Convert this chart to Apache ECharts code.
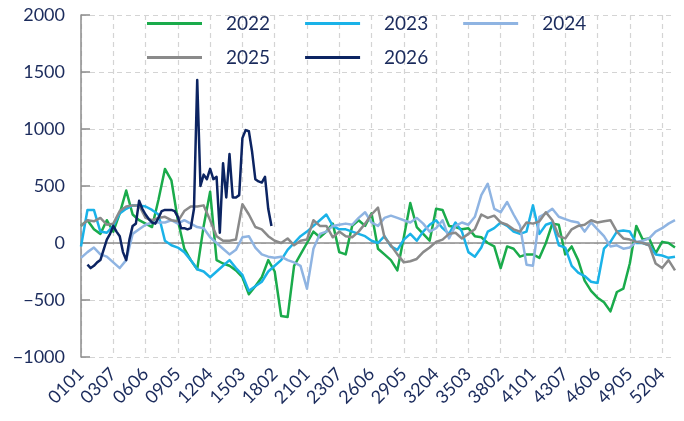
<!DOCTYPE html>
<html>
<head>
<meta charset="utf-8">
<script src="https://cdn.jsdelivr.net/npm/echarts@6/dist/echarts.min.js"></script>
<style>
  html, body { margin: 0; padding: 0; background: #fff; }
  #chart { width: 684px; height: 421px; }
</style>
</head>
<body>
<div id="chart"></div>
<script>
// week+day codes, 0101 .. 5305
const dayCodes = [];
for (let w = 1; w <= 53; w++) {
    for (let d = 1; d <= 7; d++) {
        dayCodes.push(String(w).padStart(2, '0') + String(d).padStart(2, '0'));
    }
}
const categories = dayCodes.slice(0, 369);

const seriesNames = ['2022', '2023', '2024', '2025', '2026'];
const seriesColors = ['#1aab4b', '#1ab2e8', '#8fb4e2', '#8a8a8a', '#0c2462'];

// sampled every 4 days for the full years, every 2 days for 2026
const step = 4;
const step2026 = 2;

const v2022 = [150, 200, 120, 80, 200, 100, 260, 460, 250, 200, 170, 140, 380, 650, 550, 200,
    -50, -150, -230, 150, 450, -150, -180, -200, -240, -300, -450, -380, -300, -150, -250, -640,
    -650, -200, -100, 0, 100, 50, 100, 170, -80, -100, 150, 200, 150, 260, -50, -100,
    -150, -240, 50, 350, 140, 80, 20, 300, 290, 150, 140, 120, 130, 60, 50, 0,
    -30, -220, -30, -50, -120, -100, -100, -130, 0, 170, 160, -100, -30, -150, -330, -420,
    -480, -520, -600, -430, -400, -180, 150, 30, 40, -90, 10, 0, -40];

const v2023 = [-30, 290, 290, 100, 90, 150, 260, 300, 330, 330, 320, 290, 250, 20, -20, -40,
    -80, -150, -230, -250, -300, -250, -200, -150, -220, -280, -420, -380, -340, -250, -200, -150,
    -60, 0, 60, 100, 150, 200, 250, 150, 120, 120, 100, 80, 60, 20, 0, 60,
    -30, -60, 30, 80, 20, 100, 160, 200, 130, 80, 180, 100, -80, -120, -40, 100,
    130, 180, 150, 100, 80, 100, 330, 80, 160, 180, -20, -40, -200, -260, -290, -340,
    -350, -50, 10, 100, 110, 100, 0, 0, -20, -100, -110, -130, -120];

const v2024 = [-130, -80, -40, -100, -120, -170, -220, -150, 80, 120, 160, 180, 180, 180, 200, 170,
    200, 170, 140, 130, 50, 0, -50, -100, -60, 50, 60, -40, -100, -120, -130, -120,
    -150, -170, -200, -400, -50, 80, 100, 150, 160, 170, 160, 220, 270, 180, 150, 220,
    240, 220, 200, 180, 220, 170, 100, 130, 200, 40, 150, 180, 160, 230, 420, 520,
    300, 270, 360, 250, 150, -190, -200, 230, 260, 300, 230, 210, 190, 180, 100, 180,
    120, 60, -30, -20, -50, -40, 10, 20, 40, 100, 130, 170, 200];

const v2025 = [150, 200, 190, 220, 160, 170, 280, 320, 330, 330, 220, 200, 220, 230, 200, 190,
    280, 320, 320, 330, 200, 60, 20, 20, 30, 340, 250, 140, 120, 60, 20, 0,
    40, -20, 20, 30, 200, 150, 150, 50, 100, 60, 50, 100, 170, 250, 310, 50,
    -20, -100, -170, -160, -140, -80, -40, 10, 30, 80, 90, 40, 80, 120, 250, 220,
    240, 180, 160, 120, 100, 180, 170, 190, 270, 200, 60, 40, 120, 150, 160, 200,
    180, 190, 200, 100, 40, 30, 10, 0, -20, -180, -220, -150, -240];

const v2026 = [null, null, -190, -220, -200, -170, -150, -60, 30, 80, 150, 100, 60, -80, -150, 30,
    150, 170, 370, 300, 250, 210, 180, 170, 220, 280, 290, 290, 290, 280, 230, 130,
    130, 120, 130, 300, 1430, 500, 600, 560, 650, 560, 580, 90, 700, 400, 780, 400,
    400, 420, 920, 990, 980, 800, 560, 540, 530, 580, 300, 150];

const yTicks = { min: -1000, max: 2000, interval: 500 };

function toPoints(values, s) {
    return values.map((v, i) => [i * s, v]);
}

function getOption() {
    const textColor = '#1b2b5c';
    const font = 'Lato, "Open Sans", sans-serif';
    const allValues = [v2022, v2023, v2024, v2025, v2026];
    const steps = [step, step, step, step, step2026];

    const series = seriesNames.map((name, i) => ({
        name: name,
        type: 'line',
        data: toPoints(allValues[i], steps[i]),
        showSymbol: false,
        symbol: 'none',
        connectNulls: false,
        lineStyle: { color: seriesColors[i], width: 2.5, join: 'round' },
        itemStyle: { color: seriesColors[i] },
        z: 3 + i,
    }));

    // zero line
    series[0].markLine = {
        silent: true,
        symbol: 'none',
        label: { show: false },
        lineStyle: { color: '#8c8c8c', type: 'solid', width: 1.5 },
        data: [{ yAxis: 0 }],
        z: 2,
    };

    const legendBase = {
        left: 142,
        icon: 'rect',
        itemWidth: 55,
        itemHeight: 3,
        itemGap: 35,
        textStyle: { color: textColor, fontSize: 19, fontFamily: font, padding: [0, 0, 0, 19] },
    };

    return {
        animation: false,
        backgroundColor: '#fff',
        legend: [
            Object.assign({}, legendBase, { top: 9, data: ['2022', '2023', '2024'] }),
            Object.assign({}, legendBase, { top: 43, data: ['2025', '2026'] }),
        ],
        grid: { left: 81, right: 9, top: 15, bottom: 64, containLabel: false },
        xAxis: {
            type: 'category',
            data: categories,
            boundaryGap: false,
            axisLine: { show: false },
            axisTick: { show: false },
            axisLabel: {
                interval: 19,
                rotate: 45,
                margin: 14,
                color: textColor,
                fontSize: 18,
                fontFamily: font,
            },
            splitLine: {
                show: true,
                interval: 19,
                lineStyle: { color: '#d4d4d4', type: [5, 4], width: 1.2 },
            },
        },
        yAxis: {
            type: 'value',
            min: yTicks.min,
            max: yTicks.max,
            interval: yTicks.interval,
            axisLine: { show: true, lineStyle: { color: '#8c8c8c', width: 1.5 } },
            axisTick: { show: true, inside: true, length: 9, lineStyle: { color: '#8c8c8c', width: 1.5 } },
            axisLabel: {
                color: textColor,
                fontSize: 18,
                fontFamily: font,
                margin: 16,
                formatter: v => (v < 0 ? '\u2212' + Math.abs(v) : String(v)),
            },
            splitLine: { show: true, lineStyle: { color: '#d4d4d4', type: [5, 4], width: 1.2 } },
        },
        series: series,
    };
}

const chart = echarts.init(document.getElementById('chart'));
chart.setOption(getOption());
</script>
</body>
</html>
